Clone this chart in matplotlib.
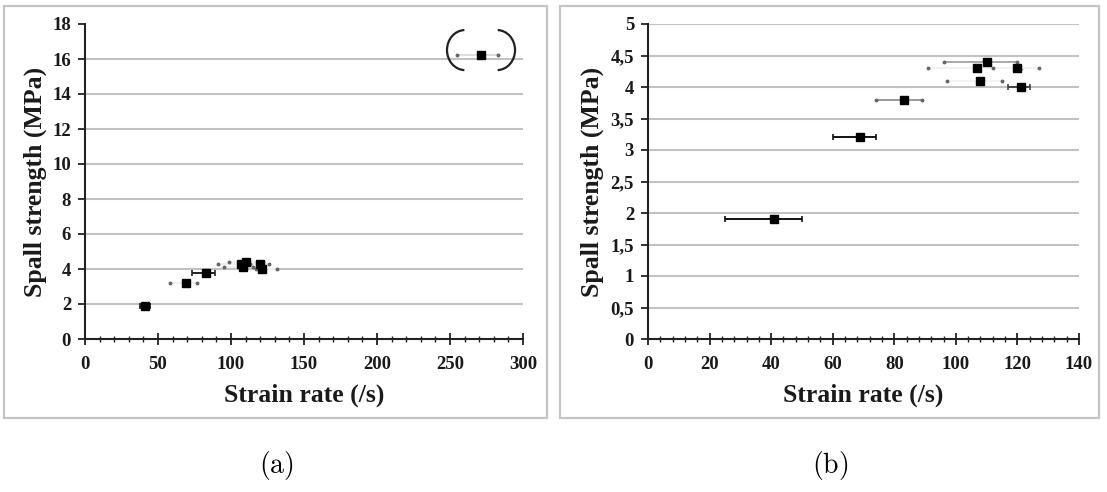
import matplotlib
matplotlib.use("Agg")
import matplotlib.pyplot as plt
from matplotlib.patches import Rectangle, Arc
from matplotlib.ticker import MultipleLocator

# ---------------- data ----------------
strain_rate = [41, 69, 83, 107, 110, 108, 120, 121]
spall_strength = [1.9, 3.2, 3.8, 4.3, 4.4, 4.1, 4.3, 4.0]

# panel (b) horizontal error bar extents
err_lo_b = [25, 60, 74, 91, 96, 97, 112, 117]
err_hi_b = [50, 74, 89, 121, 120, 115, 127, 124]

# panel (a) horizontal error bar extents
err_lo_a = [37.6, 58.5, 73.6, 90.8, 98.7, 95, 113, 117]
err_hi_a = [44.8, 76.4, 89, 120, 122, 115, 126, 131.5]

# panel (a) extra (bracketed) point
extra_x = [271]
extra_y = [16.25]
extra_lo = [254.5]
extra_hi = [283.2]

yticks_a = [0, 2, 4, 6, 8, 10, 12, 14, 16, 18]
xticks_a = [0, 50, 100, 150, 200, 250, 300]
yticks_b = [0, 0.5, 1, 1.5, 2, 2.5, 3, 3.5, 4, 4.5, 5]
ytick_labels_b = ["0", "0,5", "1", "1,5", "2", "2,5", "3", "3,5", "4", "4,5", "5"]
xticks_b = [0, 20, 40, 60, 80, 100, 120, 140]

xlabel = "Strain rate (/s)"
ylabel = "Spall strength (MPa)"

# ---------------- style ----------------
style_b = [("#111111", "tick"), ("#111111", "tick"), ("#9a9a9a", "dot"),
           ("#f2f2f2", "dot"), ("#a8a8a8", "dot"), ("#f2f2f2", "dot"),
           ("#f2f2f2", "dot"), ("#444444", "tick")]
style_a = [("#111111", "tick"), ("#eeeeee", "dot"), ("#222222", "tick"),
           ("#eeeeee", "dot"), ("#eeeeee", "dot"), ("#eeeeee", "dot"),
           ("#eeeeee", "dot"), ("#eeeeee", "dot")]

FONT = "Liberation Serif"
W, H = 1107, 492
plt.rcParams["mathtext.fontset"] = "cm"
fig = plt.figure(figsize=(W / 100, H / 100), dpi=100)

for (x0, x1) in [(4, 547), (560, 1099)]:
    fig.patches.append(Rectangle((x0 / W, 1 - 418 / H), (x1 - x0) / W, (418 - 6) / H,
                                 transform=fig.transFigure, fill=False,
                                 edgecolor="#c4c4c4", linewidth=1.6))

ax_a = fig.add_axes([85 / W, 1 - 339 / H, (523 - 85) / W, 315 / H])
ax_b = fig.add_axes([648 / W, 1 - 339 / H, (1079 - 648) / W, 315 / H])


def draw_points(ax, xs, ys, los, his, styles, ms):
    for x, y, lo, hi, (ec, cap) in zip(xs, ys, los, his, styles):
        ax.errorbar([x], [y], xerr=[[x - lo], [hi - x]], fmt="none",
                    ecolor=ec, elinewidth=1.4,
                    capsize=2.5 if cap == "tick" else 0, capthick=1.2, zorder=3)
        if cap == "dot":
            ax.plot([lo, hi], [y, y], linestyle="none", marker="o", ms=1.8,
                    color="#666666", zorder=3)
        ax.plot([x], [y], marker="s", ms=ms, color="black", linestyle="none", zorder=4)


def style_axes(ax, xmax, ymax, yticks, ylabels, xticks, xminor, grid_vals):
    ax.set_xlim(0, xmax)
    ax.set_ylim(0, ymax)
    for s in ["top", "right"]:
        ax.spines[s].set_visible(False)
    for s in ["left", "bottom"]:
        ax.spines[s].set_linewidth(1.5)
        ax.spines[s].set_color("#222222")
    ax.set_yticks(yticks)
    ax.set_yticklabels(ylabels)
    ax.set_xticks(xticks)
    ax.xaxis.set_minor_locator(MultipleLocator(xminor))
    ax.tick_params(axis="x", which="major", direction="inout", length=8, width=1.3,
                   pad=8, color="#222222")
    ax.tick_params(axis="x", which="minor", direction="inout", length=4, width=1.0,
                   color="#222222")
    ax.tick_params(axis="y", which="major", direction="out", length=5, width=1.3,
                   pad=5, color="#222222")
    for lab in ax.get_xticklabels() + ax.get_yticklabels():
        lab.set_fontfamily(FONT)
        lab.set_fontweight("bold")
        lab.set_fontsize(13.5)
        lab.set_color("#1a1a1a")
    for yv in grid_vals:
        ax.axhline(yv, color="#c2c2c2", linewidth=1.5, zorder=1)
    ax.set_xlabel(xlabel, fontfamily=FONT, fontweight="bold", fontsize=18.5,
                  color="#1a1a1a")
    ax.set_ylabel(ylabel, fontfamily=FONT, fontweight="bold", fontsize=18.5,
                  color="#1a1a1a")
    ax.xaxis.set_label_coords(0.5, -0.143)


# ---- panel (a)
draw_points(ax_a, strain_rate, spall_strength, err_lo_a, err_hi_a, style_a, 5.2)
draw_points(ax_a, extra_x, extra_y, extra_lo, extra_hi, [("#dddddd", "dot")], 5.2)
style_axes(ax_a, 300, 18, yticks_a, [str(v) for v in yticks_a], xticks_a, 10,
           yticks_a[1:-1])
ax_a.yaxis.set_label_coords(-0.087, 0.5)
# bracket arcs around the outlying point
ax_a.add_patch(Arc((260.3, 16.51), 24.7, 2.29, theta1=112, theta2=248,
                   color="#222222", linewidth=1.6, zorder=5))
ax_a.add_patch(Arc((282.2, 16.51), 24.7, 2.29, theta1=-68, theta2=68,
                   color="#222222", linewidth=1.6, zorder=5))

# ---- panel (b)
draw_points(ax_b, strain_rate, spall_strength, err_lo_b, err_hi_b, style_b, 5.5)
style_axes(ax_b, 140, 5, yticks_b, ytick_labels_b, xticks_b, 4, yticks_b[1:])
ax_b.yaxis.set_label_coords(-0.102, 0.5)

fig.text(276 / W, 1 - 466 / H, r"$\mathrm{(a)}$", fontsize=20, ha="center", va="center")
fig.text(830 / W, 1 - 466 / H, r"$\mathrm{(b)}$", fontsize=20, ha="center", va="center")

fig.savefig("out.png", dpi=100)
